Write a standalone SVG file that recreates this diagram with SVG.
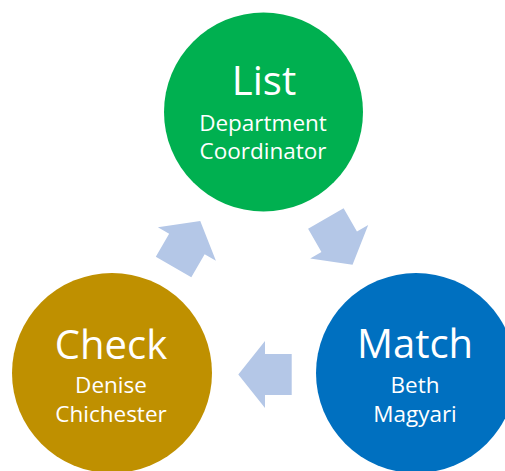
<svg xmlns="http://www.w3.org/2000/svg" width="505" height="471" viewBox="0 0 505 471">
<defs>
<style>
.t{font-family:"Open Sans","Noto Sans",sans-serif;fill:#fff;text-anchor:middle}
.big{font-size:40px}
.sm{font-size:22.5px}
.arr{fill:#B4C7E7}
</style>
<path id="a" d="M-26.7,-20.5 L0,-20.5 L0,-33.5 L26.7,0 L0,33.5 L0,20.5 L-26.7,20.5 Z"/>
</defs>
<rect width="505" height="471" fill="#fff"/>
<g id="connectors" class="arr">
<use href="#a" transform="translate(186.9,244) rotate(-60)"/>
<use href="#a" transform="translate(339.2,241.7) rotate(60)"/>
<use href="#a" transform="translate(265,374.4) rotate(180)"/>
</g>
<g id="list">
<circle cx="263.5" cy="112" r="99.5" fill="#00B050"/>
<text class="t big" x="264" y="95">List</text>
<text class="t sm" x="263" y="131">Department</text>
<text class="t sm" x="263" y="159">Coordinator</text>
</g>
<g id="match">
<circle cx="416" cy="373" r="100" fill="#0070C0"/>
<text class="t big" x="415" y="358">Match</text>
<text class="t sm" x="415" y="393">Beth</text>
<text class="t sm" x="415" y="422">Magyari</text>
</g>
<g id="check">
<circle cx="112" cy="373" r="100" fill="#BF9000"/>
<text class="t big" x="111" y="359">Check</text>
<text class="t sm" x="111" y="393">Denise</text>
<text class="t sm" x="111" y="422">Chichester</text>
</g>
</svg>
